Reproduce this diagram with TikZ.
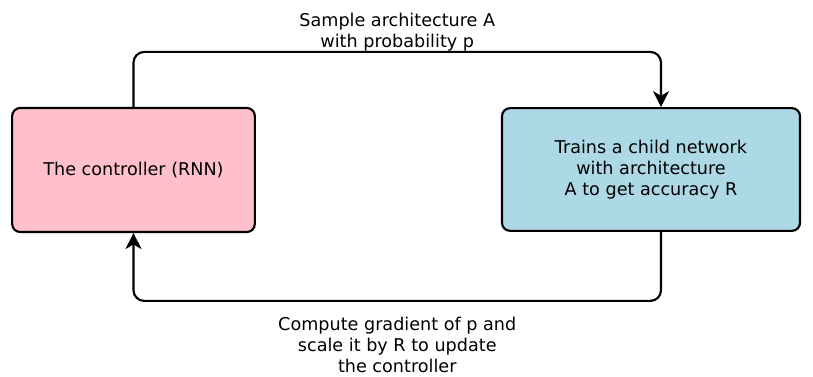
\documentclass[tikz,border=0pt]{standalone}
\usepackage{fontspec}
\setmainfont{DejaVu Sans}
\usetikzlibrary{arrows.meta}
\definecolor{boxpink}{RGB}{255,192,203}
\definecolor{boxblue}{RGB}{173,216,230}

\begin{document}
\begin{tikzpicture}[x=0.75pt, y=-0.75pt, font=\fontsize{13.2}{15.75}\selectfont,
    box/.style={draw, line width=1.6pt, rounded corners=6pt, align=center, inner sep=0pt},
    flow/.style={line width=1.6pt, rounded corners=8pt, arrows={-Stealth[length=12pt, width=12pt, inset=3.5pt]}}]
    \useasboundingbox (0,0) rectangle (813,377);
	\node [box, fill=boxpink, minimum width=182pt, minimum height=93pt] (C) at (133.5,170) {The controller (RNN)};
	\node [box, fill=boxblue, minimum width=223.5pt, minimum height=92pt] (N) at (651,169.5) {Trains a child network\\with architecture\\A to get accuracy R};
	\draw [flow] (C.north) -- ++(0,-55) -| node [pos=0.25, above, align=center, inner sep=0pt] (S) {Sample architecture A\\with probability p} ([xshift=7.5pt]N.north);
	\draw [flow] ([xshift=7.5pt]N.south) -- ++(0,69) -| node [pos=0.25, below, align=center, yshift=-8pt] (G) {Compute gradient of p and\\scale it by R to update\\the controller} (C.south);
\end{tikzpicture}
\end{document}
